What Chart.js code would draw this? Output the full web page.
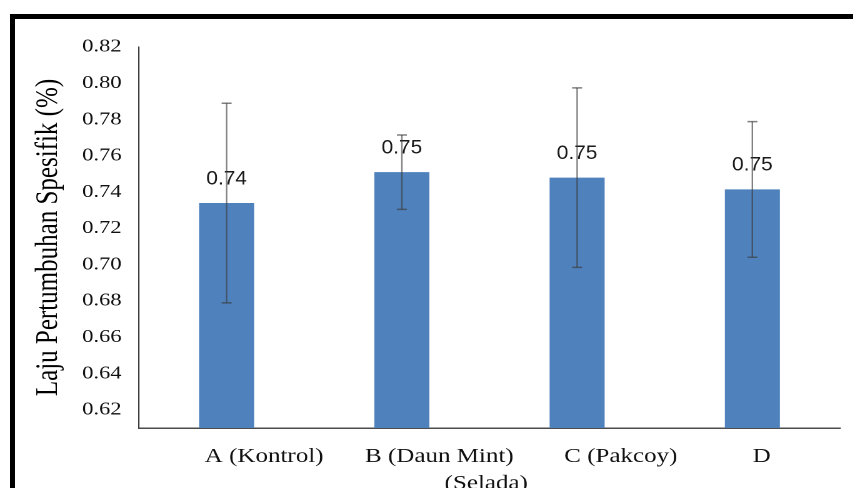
<!DOCTYPE html>
<html>
<head>
<meta charset="utf-8">
<title>Laju Pertumbuhan Spesifik</title>
<script src="https://cdn.jsdelivr.net/npm/chart.js@4.4.1/dist/chart.umd.min.js"></script>
<style>
    html, body { margin: 0; padding: 0; background: #fff; overflow: hidden; }
    body { width: 853px; height: 488px; position: relative; }
    #frame {
        position: absolute; left: 10px; top: 14px; width: 900px; height: 600px;
        border-top: 5px solid #000; border-left: 5px solid #000;
    }
    /* the source picture is stretched sideways, so the chart is too */
    #wrap {
        position: absolute; left: 0; top: 0; width: 682.4px; height: 488px;
        transform: scaleX(1.25); transform-origin: 0 0;
    }
</style>
</head>
<body>
<div id="frame"></div>
<div id="wrap"><canvas id="chart"></canvas></div>
<script>
// data
const categories = ['A (Kontrol)', ['B (Daun Mint)', '(Selada)'], 'C (Pakcoy)', 'D'];
const growthRate = [0.734, 0.751, 0.748, 0.7415];
const errorSize = [0.055, 0.0205, 0.0495, 0.0374];
const valueLabels = ['0.74', '0.75', '0.75', '0.75'];
const yTicks = [0.62, 0.64, 0.66, 0.68, 0.70, 0.72, 0.74, 0.76, 0.78, 0.80, 0.82];

// label nudges, in spaces (+ leading, - trailing), one per line
const labelNudge = [[0], [0, 15], [2], [-9]];

function nudge(text, n) {
    return n > 0 ? ' '.repeat(n) + text : text + ' '.repeat(-n);
}

const errorBars = {
    id: 'errorBars',
    afterDatasetsDraw(chart) {
        const ctx = chart.ctx;
        const y = chart.scales.y;
        const meta = chart.getDatasetMeta(0);

        // value labels (squeezed back a little, they are less stretched)
        ctx.save();
        ctx.font = '19px "Liberation Sans", Arial, sans-serif';
        ctx.fillStyle = '#1a1a1a';
        ctx.textAlign = 'center';
        ctx.textBaseline = 'middle';
        meta.data.forEach((bar, i) => {
            ctx.save();
            ctx.translate(bar.x, bar.y - 24);
            ctx.scale(0.88, 1);
            ctx.fillText(valueLabels[i], 0, 0);
            ctx.restore();
        });
        ctx.restore();

        ctx.save();
        ctx.strokeStyle = 'rgba(60, 60, 60, 0.65)';
        meta.data.forEach((bar, i) => {
            const top = y.getPixelForValue(growthRate[i] + errorSize[i]);
            const bottom = y.getPixelForValue(growthRate[i] - errorSize[i]);
            ctx.lineWidth = 1.2;
            ctx.beginPath();
            ctx.moveTo(bar.x, top);
            ctx.lineTo(bar.x, bottom);
            ctx.stroke();
            ctx.lineWidth = 1.5;
            ctx.beginPath();
            ctx.moveTo(bar.x - 4, top);
            ctx.lineTo(bar.x + 4, top);
            ctx.moveTo(bar.x - 4, bottom);
            ctx.lineTo(bar.x + 4, bottom);
            ctx.stroke();
        });
        ctx.restore();
    }
};

new Chart(document.getElementById('chart'), {
    type: 'bar',
    data: {
        labels: categories,
        datasets: [{
            data: growthRate,
            backgroundColor: '#4f81bd',
            barPercentage: 0.314,
            categoryPercentage: 1
        }]
    },
    plugins: [errorBars],
    options: {
        responsive: true,
        maintainAspectRatio: false,
        animation: false,
        devicePixelRatio: 2,
        layout: {
            padding: { top: 47, right: 10.4, bottom: 0, left: 0 }
        },
        plugins: {
            legend: { display: false },
            tooltip: { enabled: false }
        },
        scales: {
            x: {
                grid: { display: false, drawTicks: false },
                border: { color: '#4d4d4d', width: 1.5 },
                afterFit: function (scale) { scale.height = 60; },
                ticks: {
                    autoSkip: false,
                    maxRotation: 0,
                    minRotation: 0,
                    padding: 15,
                    labelOffset: 30,
                    color: '#111',
                    font: { family: '"Liberation Serif", "Times New Roman", serif', size: 20, lineHeight: 1.35 },
                    callback: function (value, index) {
                        const lab = categories[index];
                        const lines = Array.isArray(lab) ? lab : [lab];
                        return lines.map((t, j) => nudge(t, labelNudge[index][j] || 0));
                    }
                }
            },
            y: {
                min: 0.61,
                max: 0.82,
                grid: { display: false, drawTicks: false },
                border: { color: '#404040', width: 1.1 },
                afterFit: function (scale) { scale.width = 111.2; },
                afterBuildTicks: function (scale) {
                    scale.ticks = yTicks.map(v => ({ value: v }));
                },
                ticks: {
                    padding: 14,
                    color: '#111',
                    font: { family: '"Liberation Serif", "Times New Roman", serif', size: 18 },
                    callback: function (value) { return value.toFixed(2); }
                },
                title: {
                    display: true,
                    text: 'Laju Pertumbuhan Spesifik (%)',
                    color: '#000',
                    padding: { top: 24, bottom: 0 },
                    font: { family: '"Liberation Serif", "Times New Roman", serif', size: 25 }
                }
            }
        }
    }
});
</script>
</body>
</html>
